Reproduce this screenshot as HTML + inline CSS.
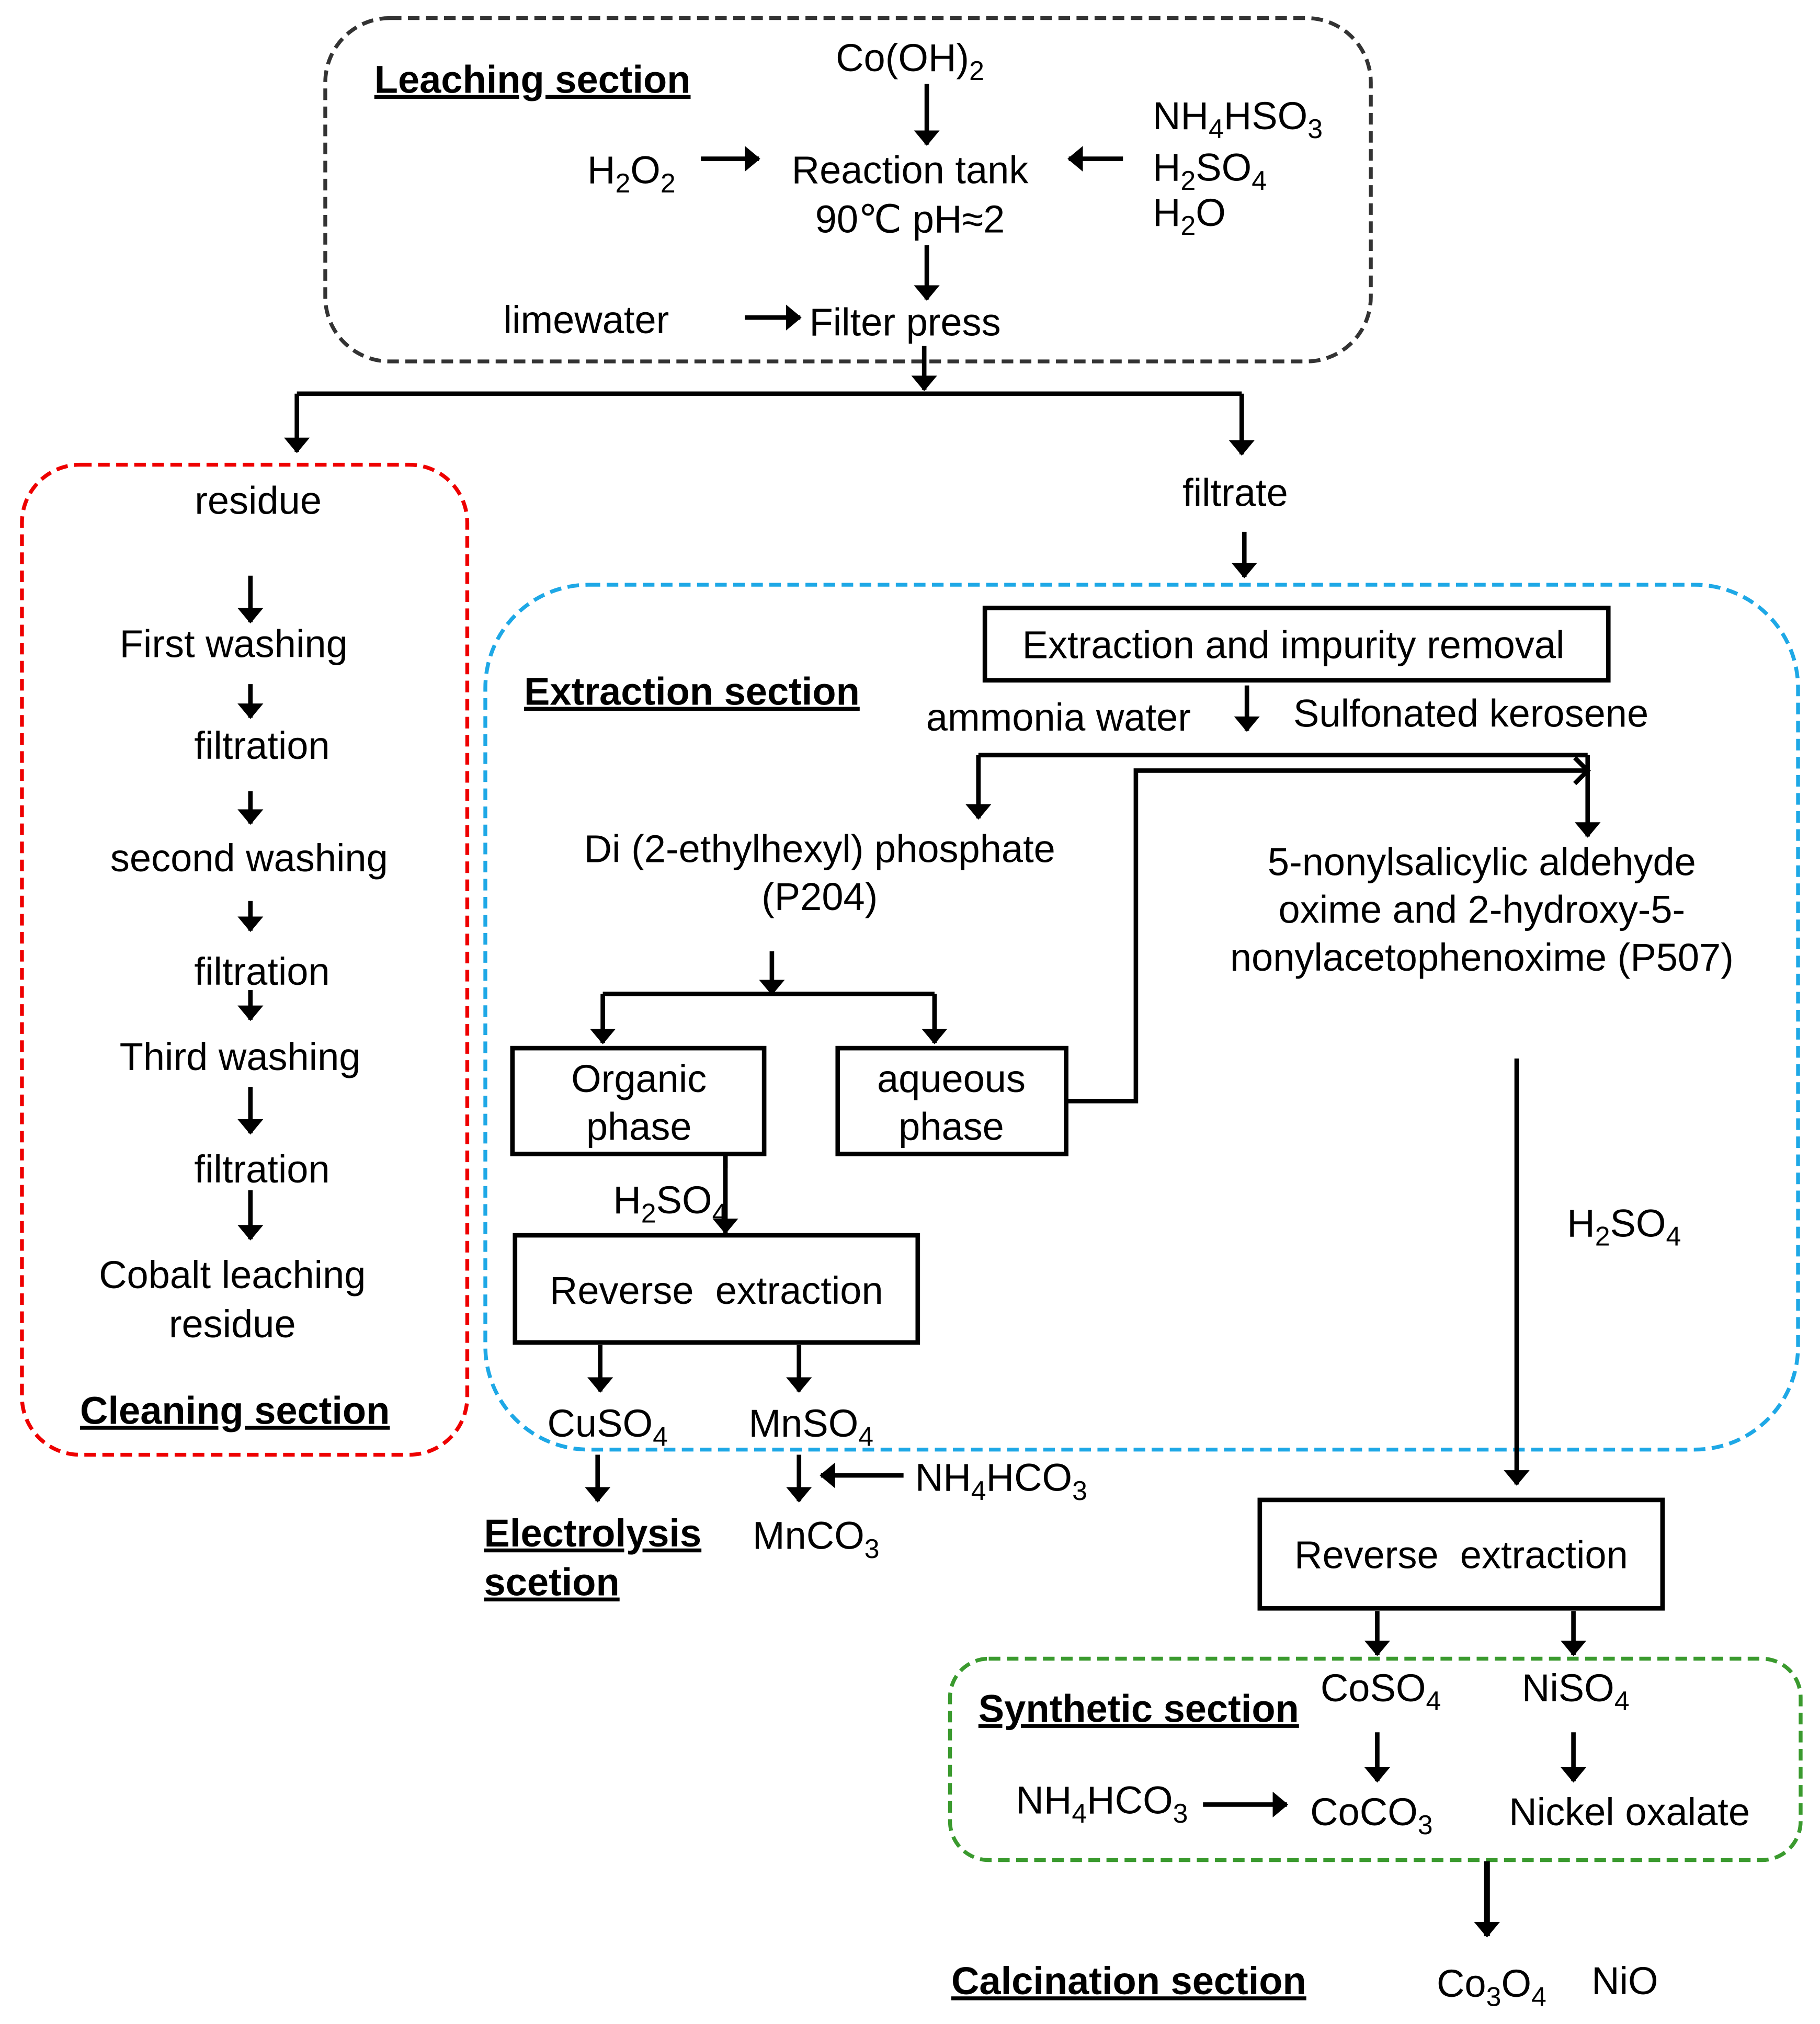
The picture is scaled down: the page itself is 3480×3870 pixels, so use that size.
<!DOCTYPE html>
<html><head><meta charset="utf-8"><style>
html,body{margin:0;padding:0;background:#fff}
svg{display:block}
text{font-family:"Liberation Sans",Arial,sans-serif;font-size:30px;fill:#000}
.b{font-weight:bold;text-decoration:underline}
.m{text-anchor:middle}
</style></head><body>
<svg width="3480" height="3870" viewBox="0 0 1410 1568" xmlns="http://www.w3.org/2000/svg">
<defs>
<marker id="a" markerWidth="12" markerHeight="20" refX="11" refY="5" orient="auto" markerUnits="userSpaceOnUse" viewBox="0 0 12 10" preserveAspectRatio="none">
<path d="M0,0 L12,5 L0,10 z" fill="#000"/></marker>
</defs>
<g fill="none" stroke-width="3" stroke-dasharray="9,5">
<rect x="252" y="14" width="810" height="266" rx="50" stroke="#333"/>
<rect x="17" y="360" width="345" height="767" rx="45" stroke="#e00"/>
<rect x="376" y="453" width="1017" height="670" rx="80" stroke="#1ea8e6"/>
<rect x="736" y="1285" width="659" height="156" rx="30" stroke="#3a9a2e"/>
</g>
<g stroke="#000" stroke-width="3.5" fill="none">
<rect x="763" y="471" width="483" height="56"/>
<rect x="397" y="812" width="195" height="82"/>
<rect x="649" y="812" width="177" height="82"/>
<rect x="399" y="957" width="312" height="83"/>
<rect x="976" y="1162" width="312" height="84"/>
<polyline points="230,305 962,305"/>
<polyline points="758,585 1230,585"/>
<polyline points="826,853 880,853 880,597 1228,597"/>
<polyline points="1220,587 1230,597 1220,607"/>
<polyline points="467,770 724,770"/>
<polyline points="562,894 562,905"/>
</g>
<g stroke="#000" stroke-width="3.5" marker-end="url(#a)">
<line x1="718" y1="65" x2="718" y2="112"/>
<line x1="543" y1="123" x2="588" y2="123"/>
<line x1="870" y1="123" x2="828" y2="123"/>
<line x1="718" y1="190" x2="718" y2="232"/>
<line x1="577" y1="246" x2="620" y2="246"/>
<line x1="716" y1="268" x2="716" y2="302"/>
<line x1="230" y1="305" x2="230" y2="350"/>
<line x1="962" y1="305" x2="962" y2="352"/>
<line x1="194" y1="446" x2="194" y2="482"/>
<line x1="194" y1="530" x2="194" y2="556"/>
<line x1="194" y1="613" x2="194" y2="638"/>
<line x1="194" y1="698" x2="194" y2="721"/>
<line x1="194" y1="767" x2="194" y2="790"/>
<line x1="194" y1="842" x2="194" y2="878"/>
<line x1="194" y1="922" x2="194" y2="960"/>
<line x1="964" y1="412" x2="964" y2="447"/>
<line x1="966" y1="531" x2="966" y2="566"/>
<line x1="758" y1="585" x2="758" y2="634"/>
<line x1="1230" y1="585" x2="1230" y2="648"/>
<line x1="598" y1="737" x2="598" y2="770"/>
<line x1="467" y1="770" x2="467" y2="808"/>
<line x1="724" y1="770" x2="724" y2="808"/>
<line x1="562" y1="894" x2="562" y2="955"/>
<line x1="465" y1="1042" x2="465" y2="1078"/>
<line x1="619" y1="1042" x2="619" y2="1078"/>
<line x1="463" y1="1127" x2="463" y2="1163"/>
<line x1="619" y1="1127" x2="619" y2="1163"/>
<line x1="700" y1="1143" x2="636" y2="1143"/>
<line x1="1175" y1="820" x2="1175" y2="1150"/>
<line x1="1067" y1="1248" x2="1067" y2="1282"/>
<line x1="1219" y1="1248" x2="1219" y2="1282"/>
<line x1="1067" y1="1342" x2="1067" y2="1380"/>
<line x1="1219" y1="1342" x2="1219" y2="1380"/>
<line x1="932" y1="1398" x2="997" y2="1398"/>
<line x1="1152" y1="1442" x2="1152" y2="1500" stroke-width="4.5"/>
</g>
<text x="290" y="72" class="b">Leaching section</text>
<text x="705" y="55" class="m">Co(OH)<tspan font-size="21" dy="7">2</tspan></text>
<text x="455" y="142">H<tspan font-size="21" dy="7">2</tspan><tspan dy="-7">O</tspan><tspan font-size="21" dy="7">2</tspan></text>
<text x="705" y="142" class="m">Reaction tank</text>
<text x="705" y="180" class="m">90℃ pH≈2</text>
<text x="893" y="100">NH<tspan font-size="21" dy="7">4</tspan><tspan dy="-7">HSO</tspan><tspan font-size="21" dy="7">3</tspan></text>
<text x="893" y="140">H<tspan font-size="21" dy="7">2</tspan><tspan dy="-7">SO</tspan><tspan font-size="21" dy="7">4</tspan></text>
<text x="893" y="175">H<tspan font-size="21" dy="7">2</tspan><tspan dy="-7">O</tspan></text>
<text x="390" y="258">limewater</text>
<text x="627" y="260">Filter press</text>
<text x="200" y="398" class="m">residue</text>
<text x="181" y="509" class="m">First washing</text>
<text x="203" y="588" class="m">filtration</text>
<text x="193" y="675" class="m">second washing</text>
<text x="203" y="763" class="m">filtration</text>
<text x="186" y="829" class="m">Third washing</text>
<text x="203" y="916" class="m">filtration</text>
<text x="180" y="998" class="m">Cobalt leaching</text>
<text x="180" y="1036" class="m">residue</text>
<text x="62" y="1103" class="b">Cleaning section</text>
<text x="957" y="392" class="m">filtrate</text>
<text x="1002" y="510" class="m">Extraction and impurity removal</text>
<text x="406" y="546" class="b">Extraction section</text>
<text x="820" y="566" class="m">ammonia water</text>
<text x="1002" y="563">Sulfonated kerosene</text>
<text x="635" y="668" class="m">Di (2-ethylhexyl) phosphate</text>
<text x="635" y="705" class="m">(P204)</text>
<text x="1148" y="678" class="m">5-nonylsalicylic aldehyde</text>
<text x="1148" y="715" class="m">oxime and 2-hydroxy-5-</text>
<text x="1148" y="752" class="m">nonylacetophenoxime (P507)</text>
<text x="495" y="846" class="m">Organic</text>
<text x="495" y="883" class="m">phase</text>
<text x="737" y="846" class="m">aqueous</text>
<text x="737" y="883" class="m">phase</text>
<text x="475" y="940">H<tspan font-size="21" dy="7">2</tspan><tspan dy="-7">SO</tspan><tspan font-size="21" dy="7">4</tspan></text>
<text x="555" y="1010" class="m">Reverse&#160; extraction</text>
<text x="424" y="1113">CuSO<tspan font-size="21" dy="7">4</tspan></text>
<text x="580" y="1113">MnSO<tspan font-size="21" dy="7">4</tspan></text>
<text x="709" y="1155">NH<tspan font-size="21" dy="7">4</tspan><tspan dy="-7">HCO</tspan><tspan font-size="21" dy="7">3</tspan></text>
<text x="583" y="1200">MnCO<tspan font-size="21" dy="7">3</tspan></text>
<text x="375" y="1198" class="b">Electrolysis</text>
<text x="375" y="1236" class="b">scetion</text>
<text x="1214" y="958">H<tspan font-size="21" dy="7">2</tspan><tspan dy="-7">SO</tspan><tspan font-size="21" dy="7">4</tspan></text>
<text x="1132" y="1215" class="m">Reverse&#160; extraction</text>
<text x="758" y="1334" class="b">Synthetic section</text>
<text x="1023" y="1318">CoSO<tspan font-size="21" dy="7">4</tspan></text>
<text x="1179" y="1318">NiSO<tspan font-size="21" dy="7">4</tspan></text>
<text x="787" y="1405">NH<tspan font-size="21" dy="7">4</tspan><tspan dy="-7">HCO</tspan><tspan font-size="21" dy="7">3</tspan></text>
<text x="1015" y="1414">CoCO<tspan font-size="21" dy="7">3</tspan></text>
<text x="1169" y="1414">Nickel oxalate</text>
<text x="737" y="1545" class="b">Calcination section</text>
<text x="1113" y="1547">Co<tspan font-size="21" dy="7">3</tspan><tspan dy="-7">O</tspan><tspan font-size="21" dy="7">4</tspan></text>
<text x="1233" y="1545">NiO</text>
</svg>
</body></html>
